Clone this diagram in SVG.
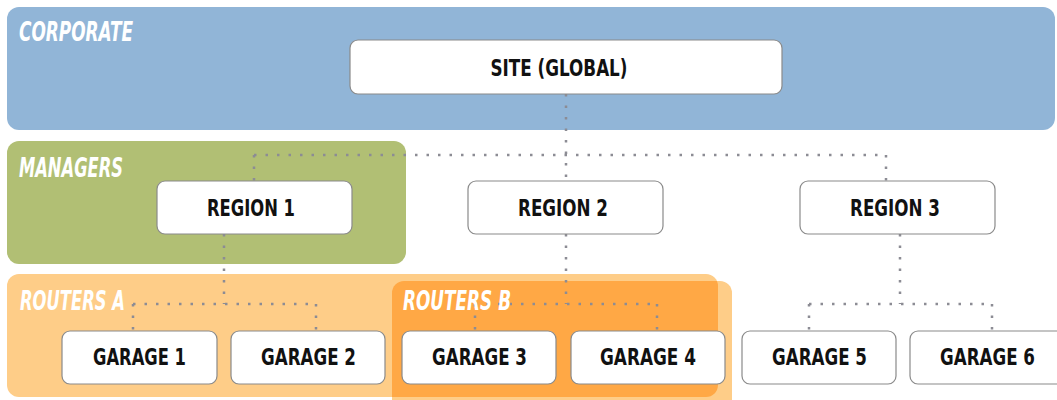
<svg xmlns="http://www.w3.org/2000/svg" width="1057" height="400" viewBox="0 0 1057 400">
<style>
.grp{font-family:"Liberation Sans Narrow","DejaVu Sans Condensed","Liberation Sans",sans-serif;font-weight:bold;font-style:italic;font-size:27px;fill:#ffffff}
.node rect{fill:#ffffff;stroke:#8a8a8a;stroke-width:1.2}
.node text{font-family:"Liberation Sans Narrow","DejaVu Sans Condensed","Liberation Sans",sans-serif;font-weight:bold;font-size:23.5px;fill:#111111;text-anchor:middle}
.conn path{fill:none;stroke:#8c8c94;stroke-width:2.5;stroke-dasharray:2.5 9}
</style>
<defs>
<clipPath id="clipA"><rect x="7" y="274" width="711" height="123" rx="12"/></clipPath>
</defs>
<g id="corporate">
<rect x="7" y="7" width="1048" height="123" rx="12" fill="#91b5d7"/>
</g>
<g id="managers">
<rect x="7" y="141" width="399" height="123" rx="12" fill="#b1bf74"/>
</g>
<g id="routers-a">
<rect x="7" y="274" width="711" height="123" rx="12" fill="#fecd88"/>
</g>
<g id="routers-b">
<rect x="392" y="281" width="340" height="130" rx="12" fill="#fecd88"/>
<rect x="392" y="281" width="340" height="130" rx="12" fill="#ffa845" clip-path="url(#clipA)"/>
</g>
<g id="connectors" class="conn">
<path d="M566,94 V181"/>
<path d="M254,155 H886 M254,155 V181 M886,155 V181"/>
<path d="M224,234 V304 M133,304 H316 M133,304 V331 M316,304 V331"/>
<path d="M566,234 V304 M475,304 H657 M475,304 V331 M657,304 V331"/>
<path d="M900,234 V304 M809,304 H992 M809,304 V331 M992,304 V331"/>
</g>
<g id="group-labels">
<text class="grp" x="19" y="41" textLength="114" lengthAdjust="spacingAndGlyphs">CORPORATE</text>
<text class="grp" x="19" y="177" textLength="104" lengthAdjust="spacingAndGlyphs">MANAGERS</text>
<text class="grp" x="20" y="310" textLength="105" lengthAdjust="spacingAndGlyphs">ROUTERS A</text>
<text class="grp" x="403" y="310" textLength="108" lengthAdjust="spacingAndGlyphs">ROUTERS B</text>
</g>
<g id="site" class="node"><rect x="350" y="40" width="432" height="54" rx="8"/><text x="559" y="76" textLength="137" lengthAdjust="spacingAndGlyphs">SITE (GLOBAL)</text></g>
<g id="region1" class="node"><rect x="157" y="181" width="195" height="53" rx="8"/><text x="251" y="216" textLength="88" lengthAdjust="spacingAndGlyphs">REGION 1</text></g>
<g id="region2" class="node"><rect x="468" y="181" width="195" height="53" rx="8"/><text x="563" y="216" textLength="90" lengthAdjust="spacingAndGlyphs">REGION 2</text></g>
<g id="region3" class="node"><rect x="800" y="181" width="195" height="53" rx="8"/><text x="895" y="216" textLength="90" lengthAdjust="spacingAndGlyphs">REGION 3</text></g>
<g id="garage1" class="node"><rect x="62" y="331" width="155" height="53" rx="8"/><text x="139.5" y="365" textLength="93" lengthAdjust="spacingAndGlyphs">GARAGE 1</text></g>
<g id="garage2" class="node"><rect x="231" y="331" width="154" height="53" rx="8"/><text x="308.5" y="365" textLength="95" lengthAdjust="spacingAndGlyphs">GARAGE 2</text></g>
<g id="garage3" class="node"><rect x="402" y="331" width="154" height="53" rx="8"/><text x="479.5" y="365" textLength="95" lengthAdjust="spacingAndGlyphs">GARAGE 3</text></g>
<g id="garage4" class="node"><rect x="571" y="331" width="154" height="53" rx="8"/><text x="648" y="365" textLength="96" lengthAdjust="spacingAndGlyphs">GARAGE 4</text></g>
<g id="garage5" class="node"><rect x="742" y="331" width="154" height="53" rx="8"/><text x="819.5" y="365" textLength="95" lengthAdjust="spacingAndGlyphs">GARAGE 5</text></g>
<g id="garage6" class="node"><rect x="910" y="331" width="155" height="53" rx="8"/><text x="987.5" y="365" textLength="95" lengthAdjust="spacingAndGlyphs">GARAGE 6</text></g>
</svg>
